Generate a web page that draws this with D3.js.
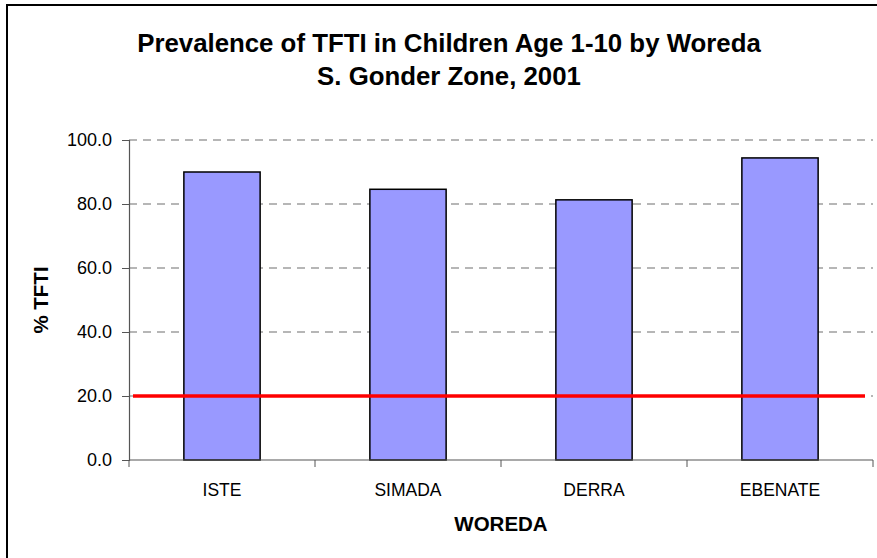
<!DOCTYPE html>
<html>
<head>
<meta charset="utf-8">
<script src="https://cdn.jsdelivr.net/npm/d3@7"></script>
<style>
  body { margin: 0; background: #fff; }
  text { font-family: "Liberation Sans", Arial, sans-serif; }
</style>
</head>
<body>
<svg id="chart" width="877" height="558"></svg>
<script>
var svgWidth = 877;
var svgHeight = 558;

var woredas = ["ISTE", "SIMADA", "DERRA", "EBENATE"];
var tftiValues = [90.0, 84.6, 81.3, 94.4];
var yTicks = [0, 20, 40, 60, 80, 100];
var thresholdValue = 20;

var titleLines = ["Prevalence of TFTI in Children Age 1-10 by Woreda", "S. Gonder Zone, 2001"];

var margin = {left: 129, right: 4, top: 140, bottom: 98};

var svg = d3.select("#chart");

// outer frame (cut off at right and bottom like the original)
svg.append("rect")
  .attr("x", 7).attr("y", 5)
  .attr("width", 880).attr("height", 570)
  .attr("fill", "#fff")
  .attr("stroke", "#000")
  .attr("stroke-width", 2);

var x = d3.scaleBand()
  .domain(woredas)
  .range([margin.left, svgWidth - margin.right])
  .paddingInner(0.59)
  .paddingOuter(0.295);

var y = d3.scaleLinear()
  .domain([0, 100])
  .range([svgHeight - margin.bottom, margin.top]);

// dashed grid
svg.append("g")
  .selectAll("line")
  .data(yTicks.filter(function(d){ return d > 0; }))
  .enter()
  .append("line")
  .attr("x1", margin.left)
  .attr("x2", svgWidth - margin.right)
  .attr("y1", function(d){ return y(d); })
  .attr("y2", function(d){ return y(d); })
  .attr("stroke", "#6e6e6e")
  .attr("stroke-width", 1.2)
  .attr("stroke-dasharray", "8,6");

// bars
svg.append("g")
  .selectAll("rect")
  .data(woredas)
  .enter()
  .append("rect")
  .attr("x", function(d){ return x(d); })
  .attr("y", function(d, i){ return y(tftiValues[i]); })
  .attr("width", x.bandwidth())
  .attr("height", function(d, i){ return y(0) - y(tftiValues[i]); })
  .attr("fill", "#9999ff")
  .attr("stroke", "#000")
  .attr("stroke-width", 1.5);

// y axis
var yAxis = svg.append("g")
  .attr("transform", "translate(" + margin.left + ",0)")
  .call(d3.axisLeft(y).tickValues(yTicks).tickSize(7).tickPadding(10)
    .tickFormat(d3.format(".1f")));
yAxis.attr("font-size", null).attr("font-family", null);
yAxis.select(".domain").attr("stroke", "#555").attr("stroke-width", 1.2);
yAxis.selectAll(".tick line").attr("stroke", "#555");
yAxis.selectAll("text")
  .attr("fill", "#000")
  .style("font-size", "18px")
  .style("font-family", "'Liberation Sans', Arial, sans-serif");

// x axis: ticks between categories
var xAxis = svg.append("g")
  .attr("transform", "translate(0," + y(0) + ")");
xAxis.append("line")
  .attr("x1", margin.left).attr("x2", svgWidth - margin.right)
  .attr("stroke", "#555").attr("stroke-width", 1.2);
var boundaries = d3.range(woredas.length + 1).map(function(i){
  return margin.left + i * (svgWidth - margin.right - margin.left) / woredas.length;
});
xAxis.selectAll(".xt")
  .data(boundaries)
  .enter()
  .append("line")
  .attr("x1", function(d){ return d; })
  .attr("x2", function(d){ return d; })
  .attr("y1", 0).attr("y2", 7)
  .attr("stroke", "#555");
xAxis.selectAll(".xl")
  .data(woredas)
  .enter()
  .append("text")
  .attr("x", function(d){ return x(d) + x.bandwidth() / 2; })
  .attr("y", 36)
  .attr("text-anchor", "middle")
  .style("font-size", "17.5px")
  .text(function(d){ return d; });

// threshold line
svg.append("line")
  .attr("x1", margin.left + 4)
  .attr("x2", svgWidth - 12)
  .attr("y1", y(thresholdValue))
  .attr("y2", y(thresholdValue))
  .attr("stroke", "#ff0000")
  .attr("stroke-width", 3.5);

// titles
svg.selectAll(".title")
  .data(titleLines)
  .enter()
  .append("text")
  .attr("x", 449)
  .attr("y", function(d, i){ return 52 + i * 33; })
  .attr("text-anchor", "middle")
  .style("font-size", "25.8px")
  .attr("font-weight", "bold")
  .text(function(d){ return d; });

svg.append("text")
  .attr("x", (margin.left + svgWidth - margin.right) / 2)
  .attr("y", 531)
  .attr("text-anchor", "middle")
  .style("font-size", "20.5px")
  .attr("font-weight", "bold")
  .text("WOREDA");

svg.append("text")
  .attr("transform", "translate(48," + y(50) + ") rotate(-90)")
  .attr("text-anchor", "middle")
  .style("font-size", "20.5px")
  .attr("font-weight", "bold")
  .text("% TFTI");
</script>
</body>
</html>
